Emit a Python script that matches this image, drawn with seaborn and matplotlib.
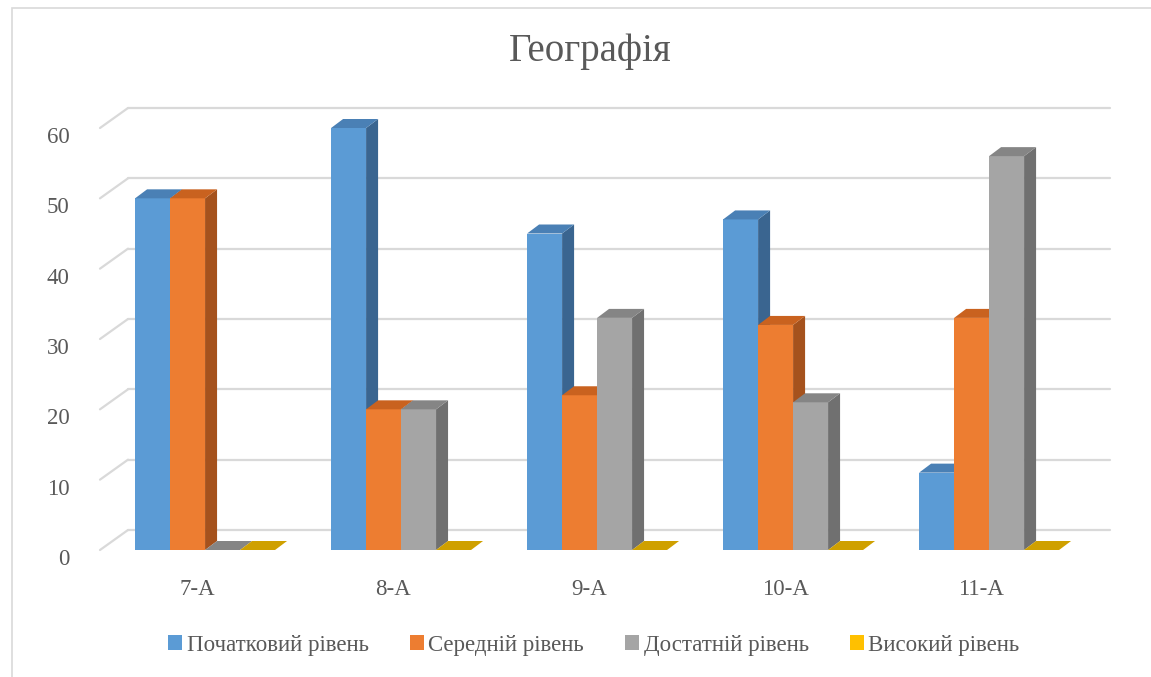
import matplotlib
matplotlib.use('Agg')
import pandas as pd
import numpy as np
import matplotlib.pyplot as plt
import matplotlib.transforms as mtransforms
from matplotlib.patches import Polygon, Patch, Rectangle
import seaborn as sns

# дані з діаграми
classes = ['7-A', '8-A', '9-A', '10-A', '11-A']
levels = ['Початковий рівень', 'Середній рівень', 'Достатній рівень', 'Високий рівень']
pochatkovyi = [50, 60, 45, 47, 11]
serednii = [50, 20, 22, 32, 33]
dostatnii = [0, 20, 33, 21, 56]
vysokyi = [0, 0, 0, 0, 0]
yticks = [0, 10, 20, 30, 40, 50, 60]

front_colors = ['#5B9BD5', '#ED7D31', '#A5A5A5', '#FFC000']
side_colors = ['#3A6590', '#A5521D', '#707070', '#B38700']
top_colors = ['#4A80B5', '#C9621F', '#858585', '#CFA000']
grid_color = '#D9D9D9'
text_color = '#595959'

df = pd.DataFrame({
    'class': classes * 4,
    'level': np.repeat(levels, len(classes)),
    'value': pochatkovyi + serednii + dostatnii + vysokyi,
})

sns.set_theme(style='white')
plt.rcParams['font.family'] = ['Liberation Serif', 'DejaVu Serif']

W, H = 1151, 677
fig = plt.figure(figsize=(W / 100, H / 100), dpi=100)
fig.patch.set_facecolor('white')
fig.patches.append(Rectangle((12 / W, -0.01), 1.0, 1 - 8 / H + 0.01, transform=fig.transFigure,
                             fill=False, edgecolor=grid_color, linewidth=1.2))

# передня площина осей у пікселях
left, right, bottom, top = 100, 1082, H - 550, H - 128
ax = fig.add_axes([left / W, bottom / H, (right - left) / W, (top - bottom) / H])
ax.set_facecolor('none')

sns.barplot(data=df, x='class', y='value', hue='level', hue_order=levels, order=classes,
            palette=front_colors, saturation=1, width=0.714, legend=False, ax=ax)

ax.set_xlim(-0.536, 4.474)
ax.set_ylim(0, 60)
for s in ax.spines.values():
    s.set_visible(False)
ax.set_xlabel('')
ax.set_ylabel('')

# глибина стовпчиків і задньої стінки (пікселі)
bdx, bdy = 12, 9
wdx, wdy = 28, 20
ident = mtransforms.IdentityTransform()

# сітка на задній стінці + діагоналі зліва
for v in yticks:
    x0, y0 = ax.transData.transform((-0.536, v))
    x1, _ = ax.transData.transform((4.474, v))
    ax.add_line(plt.Line2D([x0 + wdx, x1 + wdx], [y0 + wdy, y0 + wdy], transform=ident,
                           color=grid_color, lw=1.6, zorder=0.5, clip_on=False))
    ax.add_line(plt.Line2D([x0, x0 + wdx], [y0, y0 + wdy], transform=ident,
                           color=grid_color, lw=1.6, zorder=0.5, clip_on=False))

# об'ємні грані
for h, cont in enumerate(ax.containers):
    for bar in cont.patches:
        bar.set_zorder(3 + h)
        bar.set_edgecolor('none')
        bx, by = bar.get_x(), bar.get_y()
        bw, bh = bar.get_width(), bar.get_height()
        (px0, py0), (px1, py1) = ax.transData.transform([(bx, by), (bx + bw, by + bh)])
        side = Polygon([(px1, py0), (px1 + bdx, py0 + bdy), (px1 + bdx, py1 + bdy), (px1, py1)],
                       closed=True, transform=ident, facecolor=side_colors[h],
                       edgecolor='none', zorder=3 + h + 0.5, clip_on=False)
        topf = Polygon([(px0, py1), (px0 + bdx, py1 + bdy), (px1 + bdx, py1 + bdy), (px1, py1)],
                       closed=True, transform=ident, facecolor=top_colors[h],
                       edgecolor='none', zorder=3 + h + 0.5, clip_on=False)
        ax.add_patch(side)
        ax.add_patch(topf)

ax.set_yticks(yticks)
ax.set_yticklabels([str(v) for v in yticks], fontsize=16.5, color=text_color)
ax.tick_params(axis='y', length=0, pad=22)
ax.tick_params(axis='x', length=0, pad=21, labelsize=16.5, labelcolor=text_color)
for lab in ax.get_yticklabels():
    lab.set_transform(lab.get_transform() + mtransforms.ScaledTranslation(0, -7 / 100, fig.dpi_scale_trans))
for lab in ax.get_xticklabels():
    lab.set_transform(lab.get_transform() + mtransforms.ScaledTranslation(-8 / 100, 0, fig.dpi_scale_trans))

fig.text(590 / W, 1 - 52 / H, 'Географія', ha='center', va='center', fontsize=28, color=text_color)

handles = [Patch(facecolor=c, edgecolor='none') for c in front_colors]
fig.legend(handles, levels, loc='center', bbox_to_anchor=(594 / W, 1 - 645 / H), ncol=4,
           frameon=False, fontsize=16.5, labelcolor=text_color, handlelength=0.6, handleheight=0.6,
           handletextpad=0.2, columnspacing=1.8)

fig.savefig('out.png', dpi=100)
